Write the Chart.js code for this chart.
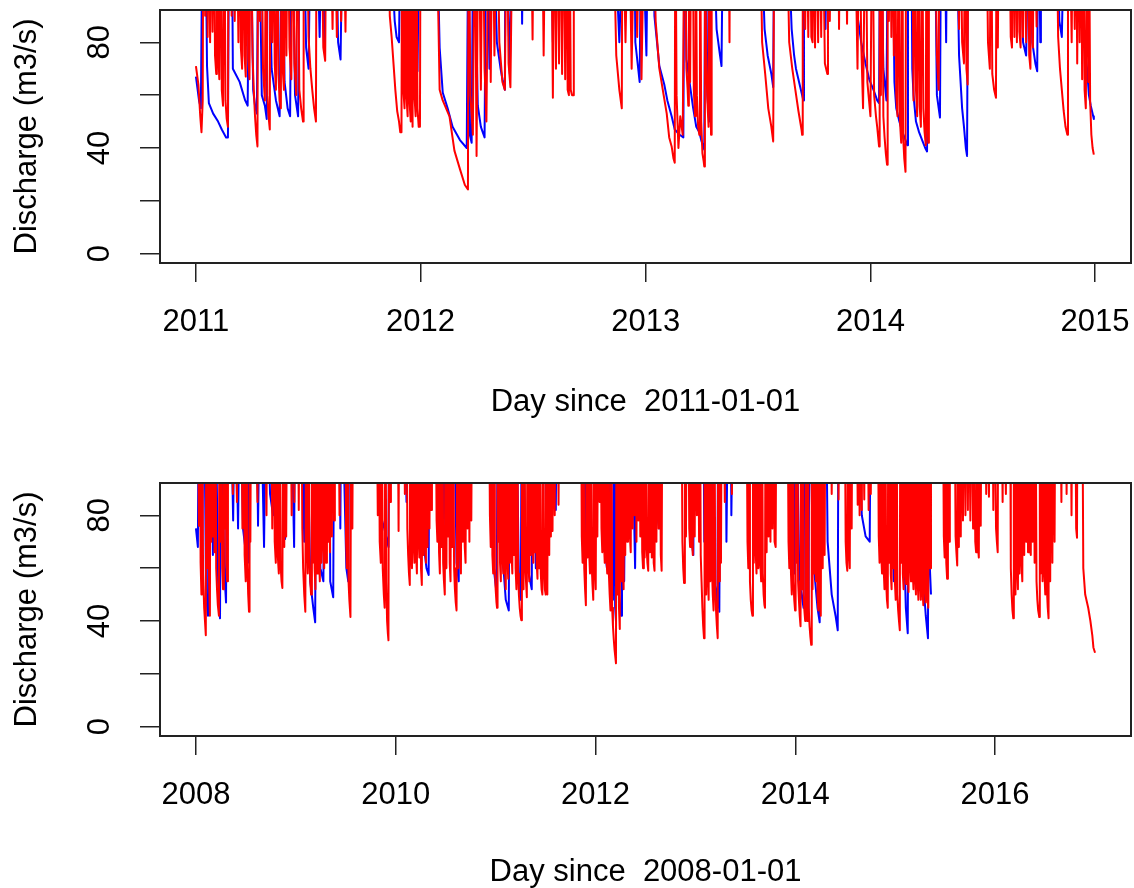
<!DOCTYPE html>
<html>
<head>
<meta charset="utf-8">
<title>Discharge</title>
<script src="https://cdn.jsdelivr.net/npm/chart.js@4.4.1/dist/chart.umd.min.js"></script>
<style>
body { margin: 0; background: #fff; }
.panel { position: absolute; left: 0; width: 1134px; height: 444px; }
</style>
</head>
<body>
<div class="panel" style="top:0"><canvas id="topChart" width="1134" height="444"></canvas></div>
<div class="panel" style="top:444px"><canvas id="bottomChart" width="1134" height="444"></canvas></div>
<script>
// [day since start, discharge m3/s]; 140 = flood peak above the plotted range
var topSim = [
	[0,71],[4,64],[7,52],[9,46],[11,58],[12,140],[15,90],[17,140],[19,82],[21,140],[23,80],[25,140],[27,84],[29,140],[31,75],[33,68],[34,140],[36,78],[38,66],[40,140],[42,62],[44,56],[46,140],[48,58],[50,51],[52,48],[53,140],[56,140],[58,90],[60,140],[63,88],[66,140],[69,80],[71,140],[73,78],[75,70],[77,140],[79,75],[81,67],[83,140],[85,74],[87,66],[89,140],[92,75],[94,62],[96,52],[98,45],[100,40.6],[101,140],[104,88],[106,140],[109,70],[112,58],[114,140],[116,60],[118,52],[120,47],[121,140],[124,80],[126,140],[128,72],[130,62],[132,140],[134,68],[136,58],[138,55],[139,140],[141,70],[143,62],[145,140],[147,75],[149,140],[152,78],[155,66],[157,140],[160,72],[163,60],[165,140],[168,62],[171,55],[174,50],[175,140],[180,140],[183,82],[186,70],[189,62],[192,55],[195,50],[196,140],[203,140],[207,78],[210,73],[212,140],[218,140],[222,85],[225,140],[229,82],[232,140],[236,88],[239,140],[243,84],[246,140],[250,140],
	[312,140],[315,90],[318,82],[321,72],[324,62],[327,54],[330,50],[332,46],[334,46],[335,140],[337,62],[339,55],[340,140],[342,60],[344,52],[345,140],[347,58],[349,50],[350,140],[352,48],[353,140],[355,60],[357,52],[358,140],[360,55],[362,48],[364,48],[365,140],
	[390,140],[396,62],[401,58],[412,52],[420,39],[429,32],[437,26],[442,24.3],[443,140],[446,60],[450,45],[453,140],[456,37],[459,140],[463,62],[466,140],[469,70],[472,50],[476,140],[479,65],[482,140],[485,75],[489,140],[493,80],[498,65],[502,62],[505,140],[508,72],[511,63],[515,140],
	[544,140],[547,81],[549,140],[562,140],[565,75],[568,140],
	[577,140],[580,59],[582,140],[585,70],[587,140],[590,72],[592,140],[595,68],[597,140],[600,66],[602,140],[604,62],[606,60],[607,140],[609,62],[611,60],[613,60],[614,140],
	[677,140],[683,75],[688,62],[692,55],[693,140],[698,80],[703,140],[708,70],[713,140],[717,82],[721,140],[724,66],[729,140],
	[742,140],[747,88],[753,70],[760,60],[765,53],[769,44],[773,40.6],[776,36],[778,34.4],[779,140],[781,60],[784,40],[787,52],[791,45],[794,140],
	[797,70],[799,62],[800,56],[801,140],[803,65],[805,140],[807,140],[809,62],[811,52],[812,140],[814,60],[816,48],[818,45],[819,140],[821,50],[823,38],[825,35],[826,33],[827,140],[829,76],[831,58],[833,48],[834,140],[836,60],[837,45],[838,140],[865,140],[867,80],[868,140],
	[916,140],[920,80],[925,68],[930,55],[935,48],[938,42.5],[940,140],
	[959,140],[964,80],[969,70],[974,62],[979,54],[984,47],[985,45],[986,140],[990,85],[992,140],[995,82],[997,140],[1000,82],[1002,80],[1003,140],[1006,78],[1008,140],[1011,80],[1013,140],[1016,82],[1018,140],[1022,72],[1024,70],[1026,68],[1027,140],[1030,88],[1032,140],[1043,140],[1045,85],[1047,140],[1055,140],[1058,87],[1060,140],
	[1070,140],[1075,70],[1078,140],[1081,80],[1084,55],[1088,140],[1091,65],[1096,52],
	[1099,140],[1102,60],[1105,52],[1107,48],[1110,40.6],[1111,140],[1113,60],[1115,140],[1117,52],[1119,44],[1121,38],[1123,33.7],[1124,140],[1126,88],[1128,140],[1130,82],[1132,140],[1134,75],[1136,140],[1138,60],[1140,52],[1142,140],[1144,50],[1146,42],[1148,140],[1149,45],[1151,36],[1153,31],[1154,140],[1164,140],[1166,58],[1168,140],[1170,62],[1172,52],[1174,140],[1176,56],[1178,48],[1180,140],[1182,55],[1184,46],[1186,41],[1187,140],[1189,50],[1190,42],[1191,140],[1200,140],[1204,75],[1206,66],[1207,62],[1208,140],
	[1235,140],[1240,85],[1242,140],[1245,80],[1248,72],[1250,140],[1252,70],[1254,64],[1255,140],
	[1284,140],[1287,80],[1290,70],[1292,140],[1294,68],[1297,62],[1300,59],[1301,140],[1303,78],[1305,140],
	[1321,140],[1324,82],[1326,78],[1327,140],[1330,82],[1332,140],[1334,80],[1336,140],[1338,84],[1340,78],[1341,140],[1344,82],[1346,140],[1349,80],[1351,140],[1354,75],[1356,70],[1357,140],[1360,78],[1362,140],[1366,86],[1368,140],
	[1398,140],[1401,82],[1404,70],[1407,62],[1410,54],[1413,48],[1416,45],[1417,140],
	[1419,140],[1423,80],[1425,140],[1428,85],[1430,140],[1432,72],[1434,140],[1436,80],[1438,140],[1440,66],[1442,140],[1444,62],[1446,55],[1448,140],[1450,65],[1451,140],[1453,58],[1455,45],[1457,40],[1459,37.5]
];

var topObs = [
	[0,67],[5,58],[8,55],[11,140],[15,140],[18,71],[21,57],[28,53],[36,50],[42,47],[49,44],[52,44],[54,140],[58,140],[60,70],[71,65],[80,58],[84,56],[88,140],[93,62],[96,56],[99,53],[102,140],[107,60],[112,56],[115,51],[117,140],[123,70],[130,58],[136,52],[140,140],[144,65],[149,55],[153,52],[156,140],[161,60],[166,52],[169,140],[174,140],[179,78],[183,70],[187,140],[195,140],[201,82],[205,140],[208,78],[211,140],[226,140],[231,80],[235,73.5],[239,140],
	[312,140],[323,88],[326,82],[330,80],[333,140],[341,140],[347,80],[352,76],[355,140],[360,69],[364,140],
	[390,140],[396,78],[401,61],[409,55],[417,48],[429,43],[440,40],[443,140],[445,45],[448,42],[451,140],[458,56],[463,48],[466,46],[469,44],[472,140],[477,70],[482,140],[489,80],[495,70],[498,66],[502,62],[503,140],[510,68],[515,140],[528,140],[530,87],[532,140],[576,140],[580,80],[583,140],[605,140],[607,75],[610,140],
	[677,140],[688,80],[696,140],[712,140],[714,80],[721,65],[724,140],[732,75],[735,140],
	[742,140],[745,90],[753,71],[761,64],[766,58],[773,52],[778,47],[786,45],[792,44],[794,140],[797,73.5],[802,65],[808,55],[813,48],[818,46],[821,43],[826,39.4],[828,140],[831,60],[834,50],[836,140],[839,140],[846,85],[851,76],[854,71],[857,140],
	[916,140],[924,85],[929,75],[935,68],[938,63],[940,140],[959,140],[968,85],[972,75],[975,70],[980,65],[984,61],[987,58],[988,140],[1021,140],[1023,85],[1026,140],
	[1070,140],[1075,90],[1081,80],[1088,72],[1094,66],[1101,62],[1107,58],[1110,57],[1112,140],[1117,70],[1122,58],[1125,140],[1131,140],[1135,65],[1138,55],[1143,50],[1148,46],[1153,43],[1156,41],[1157,140],[1162,140],[1164,70],[1166,60],[1170,50],[1175,46],[1180,43],[1185,40],[1188,38.7],[1190,140],[1200,140],[1204,60],[1209,51.5],[1211,140],[1216,140],[1219,80],[1221,140],
	[1235,140],[1240,75],[1245,55],[1248,48],[1251,40],[1253,37],[1255,140],
	[1338,140],[1344,80],[1349,75],[1354,140],[1359,80],[1364,72],[1367,69],[1369,140],[1372,80],[1373,140],[1398,140],[1403,88],[1407,82],[1412,140],[1435,140],[1443,80],[1448,70],[1451,60],[1454,56],[1458,52],[1459,51]
];

var bottomSim = [
	[0,140],[4,95],[7,140],[11,76],[14,140],[17,62],[20,50],[22,140],[26,58],[30,45],[33,40],[36,34.6],[38,140],[41,60],[44,140],[48,55],[51,42],[53,140],[56,70],[59,140],[62,72],[65,140],[68,66],[71,140],[74,60],[77,52],[80,46],[84,42],[86,140],[89,70],[92,140],[96,60],[99,52],[102,140],[105,75],[108,140],[111,62],[114,55],[117,140],
	[125,140],[135,88],[138,140],[150,85],[153,140],[165,140],[170,75],[174,140],[178,65],[182,55],[185,140],[188,62],[191,50],[194,43.5],[196,140],[199,70],[202,140],[215,140],[225,85],[228,140],[250,140],[258,80],[261,140],[275,140],
	[279,75],[284,140],[288,70],[292,62],[295,140],[299,65],[303,58],[306,140],[309,62],[313,55],[316,52.5],[319,140],[323,68],[326,140],[330,72],[334,140],[345,140],[350,80],[353,140],[360,85],[363,140],[372,140],[376,82],[379,140],
	[385,140],[389,75],[392,60],[396,50],[400,43.5],[403,140],[406,70],[409,58],[412,140],[415,65],[418,55],[421,50],[424,140],[427,62],[430,140],[434,60],[437,52],[440,140],[443,58],[446,140],[450,65],[453,55],[456,140],[459,62],[462,140],[466,68],[469,60],[472,140],[476,62],[479,140],[483,70],[486,140],[490,66],[493,140],[497,72],[500,140],[505,78],[508,140],[520,140],[525,80],[528,140],
	[546,140],[549,70],[552,60],[555,140],[558,55],[561,48],[565,41.5],[568,140],[572,75],[575,140],
	[660,140],[665,80],[668,140],[672,70],[676,62],[679,140],[683,60],[687,50],[690,45],[693,140],[696,55],[699,40],[702,35],[704,32.7],[706,140],[710,85],[713,140],[737,140],[741,74],[744,140],[760,140],[764,88],[767,140],
	[770,140],[773,75],[776,65],[779,58],[782,53.6],[784,140],[787,68],[790,60],[793,140],[796,70],[799,62],[802,140],[805,66],[808,58],[811,140],[814,72],[817,64],[820,140],[823,60],[826,53.6],[829,140],[832,65],[835,140],[838,72],[841,62],[844,140],[847,68],[850,140],[854,75],[857,140],[860,82],[863,140],
	[876,140],[880,78],[883,70],[886,140],[889,66],[892,58],[895,140],[898,68],[901,140],[904,62],[907,55],[910,50],[913,140],[916,60],[919,140],[922,72],[925,140],[928,62],[931,55],[934,140],[937,68],[940,140],[944,60],[947,52],[950,47],[953,44],[956,140],[959,60],[962,140],[966,66],[969,58],[972,140],[976,70],[979,140],[983,68],[986,62],[989,140],[993,75],[996,140],[1000,70],[1003,140],[1007,78],[1010,140],
	[1071,140],[1075,80],[1078,68],[1081,140],[1084,65],[1087,58],[1090,140],[1093,60],[1096,52],[1099,47],[1101,45],[1103,140],[1106,70],[1109,140],[1112,62],[1115,55],[1118,140],[1121,66],[1124,58],[1127,140],[1130,60],[1133,52],[1136,140],[1139,64],[1142,56],[1145,140],[1148,62],[1151,140],[1154,66],[1157,58],[1160,140],
	[1163,65],[1166,140],[1169,60],[1172,52],[1175,140],[1178,58],[1181,50],[1184,45],[1187,42],[1190,40.3],[1192,140],[1195,60],[1198,52],[1201,140],[1204,62],[1207,55],[1210,49],[1213,140],[1216,62],[1219,55],[1222,140],[1225,65],[1228,140],
	[1231,70],[1234,62],[1237,140],[1240,66],[1243,140],[1246,62],[1249,56],[1252,140],[1255,60],[1258,140],[1261,58],[1264,52],[1267,50],[1270,140],[1273,60],[1276,52],[1279,50],[1282,140],[1285,50],[1288,140],[1292,65],[1295,140],[1298,72],[1301,140],[1304,74],[1307,140],[1312,80],[1315,140],[1322,140],[1326,84],[1329,140],
	[1408,140],[1411,72],[1414,62],[1417,140],[1420,60],[1423,52],[1426,46],[1429,140],[1432,64],[1435,140],[1438,66],[1441,58],[1444,140],[1447,62],[1450,54],[1453,48],[1456,140],[1459,60],[1462,52],[1465,140],[1468,72],[1471,140],
	[1476,85],[1479,140],[1483,75],[1486,66],[1489,140],[1492,70],[1495,62],[1498,140],[1501,65],[1504,58],[1507,140],[1510,58],[1513,50],[1516,44],[1519,140],[1522,45],[1525,38],[1528,33],[1531,29],[1534,26],[1536,24],[1538,140],[1541,50],[1544,140],[1547,45],[1550,37],[1552,140],[1555,55],[1558,140],[1561,60],[1564,52],[1567,140],[1570,65],[1573,140],[1577,70],[1580,140],
	[1584,140],[1587,72],[1590,66],[1593,140],[1597,75],[1600,140],[1604,80],[1607,140],[1611,70],[1614,140],[1618,78],[1621,140],[1625,72],[1628,140],[1632,66],[1635,60],[1638,140],[1641,64],[1644,140],[1648,68],[1651,62],[1654,59],[1657,140],[1660,66],[1663,140],[1667,64],[1670,140],[1674,62],[1677,59],[1680,140],[1684,70],[1687,140],[1692,75],[1695,140],[1700,65],[1703,59],[1706,140],
	[1775,140],[1779,70],[1782,60],[1785,54.4],[1788,140],[1792,72],[1795,140],[1800,140],[1804,75],[1807,68],[1810,140],[1814,70],[1817,65],[1820,140],[1824,72],[1827,140],[1832,80],[1835,140],[1840,70],[1843,140],
	[1846,65],[1849,55],[1852,45],[1855,38],[1858,33.5],[1860,140],[1863,60],[1866,50],[1869,140],[1872,58],[1875,48],[1878,140],[1881,55],[1884,140],[1887,60],[1890,50],[1893,44],[1896,140],[1899,52],[1902,44],[1905,38],[1908,33.5],[1910,140],[1913,55],[1916,140],[1920,62],[1923,140],[1930,140],[1934,85],[1937,140],[1955,140],[1960,88],[1963,140],
	[2013,140],[2017,70],[2020,60],[2023,140],[2026,55],[2029,48],[2032,44],[2035,42],[2037,140],[2040,62],[2043,140],[2047,66],[2050,58],[2053,140],[2057,60],[2060,140],[2064,62],[2067,55],[2070,140],[2073,58],[2076,50],[2079,46],[2081,45],[2083,140],[2087,66],[2090,140],[2094,72],[2097,140],[2101,70],[2104,140],[2108,75],[2111,140],[2116,70],[2120,68],[2123,140],
	[2163,140],[2167,70],[2170,60],[2173,140],[2176,58],[2179,50],[2182,140],[2185,55],[2188,48],[2191,44],[2193,140],[2196,62],[2199,140],[2202,55],[2205,48],[2208,42],[2211,38],[2213,140],[2216,52],[2219,140],[2222,50],[2225,44],[2228,40],[2230,140],[2233,55],[2236,40],[2238,140],[2241,45],[2244,38],[2247,34],[2250,31],[2252,140],[2255,52],[2258,140],[2261,58],[2264,140],[2267,55],[2270,140],[2273,50],[2276,44],[2279,140],[2282,48],[2285,42],[2288,140],[2292,60],[2295,140],[2299,65],[2302,140],
	[2320,140],[2325,88],[2328,140],[2345,140],[2350,86],[2353,140],[2372,140],[2376,70],[2379,62],[2382,59],[2385,140],[2388,66],[2391,60],[2394,140],[2398,75],[2401,140],
	[2416,140],[2420,84],[2423,140],[2427,80],[2430,140],[2435,82],[2438,140],[2444,86],[2447,140],[2455,140],[2460,82],[2463,140],[2468,88],[2471,140],
	[2493,140],[2497,72],[2500,62],[2503,140],[2506,66],[2509,58],[2512,140],[2515,60],[2518,52],[2521,140],[2524,55],[2527,48],[2530,45],[2532,140],[2535,62],[2538,140],[2541,58],[2544,52],[2547,140],[2550,60],[2553,140],[2556,55],[2559,48],[2562,140],[2565,50],[2568,44],[2571,40],[2574,36.5],[2576,140],[2579,62],[2582,140],[2585,58],[2588,52],[2591,140],[2594,60],[2597,54],[2600,140],[2603,58],[2606,51],[2609,140],[2612,62],[2615,55],[2618,140],[2621,60],[2624,52],[2627,140],[2630,58],[2633,50],[2636,140],[2639,56],[2642,48],[2645,140],[2648,55],[2651,48],[2654,140],[2657,52],[2660,46],[2663,140],[2666,54],[2669,47],[2672,140],[2675,50],[2678,45],[2681,140],[2685,60],[2688,140],
	[2731,140],[2735,72],[2738,64],[2741,140],[2744,62],[2747,56],[2750,140],[2754,70],[2757,140],[2774,140],[2778,72],[2781,66],[2784,61],[2787,140],[2790,68],[2793,140],[2797,72],[2800,140],[2805,78],[2808,140],[2814,80],[2817,140],[2823,82],[2826,140],[2832,78],[2835,140],[2842,75],[2845,140],[2850,70],[2853,66],[2856,140],[2860,68],[2863,64],[2866,140],[2870,76],[2873,140],
	[2885,140],[2890,88],[2893,140],[2900,87],[2903,140],[2912,140],[2916,82],[2919,140],[2926,75],[2929,70],[2932,66],[2934,140],[2945,140],[2950,85],[2953,140],[2962,88],[2965,140],
	[2977,140],[2980,60],[2983,50],[2986,44],[2989,41],[2991,140],[2994,58],[2997,50],[3000,140],[3003,60],[3006,52],[3009,140],[3012,58],[3015,140],[3019,62],[3022,55],[3025,140],[3029,65],[3032,140],[3036,70],[3039,140],[3043,66],[3046,140],[3050,68],[3053,65],[3056,140],[3060,70],[3063,140],[3067,62],[3070,140],[3074,55],[3077,48],[3080,44],[3084,41.5],[3086,140],[3089,58],[3092,140],[3096,55],[3099,140],[3103,58],[3106,50],[3109,140],[3112,52],[3115,45],[3118,41],[3120,140],[3124,55],[3127,140],[3132,62],[3135,140],[3140,70],[3143,140],
	[3160,140],[3165,85],[3168,140],[3180,140],[3184,88],[3187,140],[3198,140],[3202,80],[3205,140],[3215,140],[3219,75],[3222,71.5],[3224,140],
	[3241,140],[3245,60],[3252,50],[3263,45],[3271,40],[3278,34.6],[3282,30],[3288,28]
];

var bottomObs = [
	[0,75],[7,68],[11,140],[18,140],[22,60],[29,140],[37,50],[44,42],[48,140],[55,140],[62,65],[70,140],[81,55],[88,41],[92,140],[103,60],[110,47],[114,140],[125,140],[136,78],[143,140],[154,75],[161,140],[172,75],[180,68],[183,140],[194,62],[198,140],[220,140],[227,76],[235,140],[249,68],[257,140],[271,88],[282,80],[290,140],[319,140],[326,71],[330,140],[345,140],[359,68],[363,140],[385,140],[396,70],[403,140],[418,55],[429,45],[436,39.5],[440,140],[455,60],[466,55],[473,140],[488,140],[491,55],[502,49],[506,140],[524,140],[528,75],[532,140],[550,60],[557,55],[561,140],
	[660,140],[675,80],[689,75],[704,68],[708,140],[759,140],[770,85],[774,140],[814,140],[832,70],[843,60],[851,57.4],[854,140],[869,140],[902,140],[906,75],[917,140],[942,140],[953,62],[961,55],[964,140],[983,70],[986,140],
	[1071,140],[1089,60],[1100,50],[1104,140],[1118,65],[1126,58],[1133,48],[1144,44],[1148,140],[1162,70],[1170,140],[1181,55],[1188,48],[1192,140],[1206,65],[1217,58],[1228,52],[1232,140],[1243,60],[1250,140],[1277,140],[1280,80],[1287,140],[1313,140],[1316,82],[1320,140],
	[1415,140],[1426,65],[1434,140],[1474,140],[1492,70],[1503,60],[1507,140],[1518,55],[1525,48],[1529,140],[1533,45],[1536,40],[1540,140],[1547,50],[1555,42],[1558,140],[1566,55],[1573,140],[1584,72],[1591,140],[1606,60],[1613,140],[1683,140],[1687,80],[1694,75],[1698,140],
	[1800,140],[1811,72],[1819,65],[1822,140],[1855,140],[1859,70],[1866,140],[1881,80],[1885,58],[1888,140],[1896,55],[1903,50],[1907,45],[1910,140],[1914,43.5],[1918,140],[1936,140],[1940,70],[1947,140],[1955,140],[1958,80],[1965,140],[2017,140],[2020,75],[2024,140],[2050,140],[2061,62],[2068,140],
	[2163,140],[2178,65],[2189,58],[2193,140],[2207,55],[2222,45],[2226,140],[2237,140],[2240,40],[2244,140],[2255,70],[2262,58],[2273,45],[2281,39.5],[2284,140],[2303,140],[2310,70],[2325,50],[2339,42],[2347,36.5],[2350,140],
	[2416,140],[2435,80],[2449,72],[2464,70],[2468,140],[2500,140],[2504,80],[2512,70],[2515,140],[2537,140],[2552,55],[2556,140],[2585,140],[2592,60],[2596,45],[2603,35.4],[2607,140],[2618,140],[2625,140],[2629,60],[2636,55],[2643,140],[2651,140],[2655,65],[2662,52],[2669,42],[2677,33.5],[2680,140],[2684,60],[2688,50]
];

var yTicks = [0, 20, 40, 60, 80];
var yLabels = ['0', '', '40', '', '80'];
var topTickDays = [0, 365, 731, 1096, 1461];
var topTickLabels = ['2011', '2012', '2013', '2014', '2015'];
var bottomTickDays = [0, 731, 1461, 2192, 2922];
var bottomTickLabels = ['2008', '2010', '2012', '2014', '2016'];

var FONT = '"Liberation Sans", Arial, sans-serif';
var TXT = 31;

// full box round the plot + vertical y tick labels like R
var rAxisPlugin = {
	id: 'rAxis',
	afterDraw: function(chart) {
		var ctx = chart.ctx;
		var a = chart.chartArea;
		var ys = chart.scales.y;
		ctx.save();
		ctx.strokeStyle = '#222';
		ctx.lineWidth = 2;
		ctx.strokeRect(a.left, a.top, a.right - a.left, a.bottom - a.top);
		ctx.fillStyle = '#000';
		ctx.font = TXT + 'px ' + FONT;
		ctx.textAlign = 'center';
		ctx.textBaseline = 'middle';
		yTicks.forEach(function(v, i) {
			if (!yLabels[i]) return;
			ctx.save();
			ctx.translate(100, ys.getPixelForValue(v));
			ctx.rotate(-Math.PI / 2);
			ctx.fillText(yLabels[i], 0, 0);
			ctx.restore();
		});
		ctx.restore();
	}
};

function toPoints(list) {
	return list.map(function(p) { return {x: p[0], y: p[1]}; });
}

function lineSet(label, list, color, order) {
	return {
		label: label,
		data: toPoints(list),
		borderColor: color,
		borderWidth: 2,
		pointRadius: 0,
		fill: false,
		tension: 0,
		clip: 0,
		borderJoinStyle: 'round',
		order: order
	};
}

function makeChart(id, sim, obs, tickDays, tickLabels, xMin, xMax, topPad, xHeight, titlePad, titleText) {
	var ctx = document.getElementById(id).getContext('2d');
	return new Chart(ctx, {
		type: 'line',
		data: {
			// red drawn on top of blue
			datasets: [lineSet('simulated', sim, '#ff0000', 0), lineSet('observed', obs, '#0000ff', 1)]
		},
		options: {
			responsive: false,
			animation: false,
			devicePixelRatio: 1,
			layout: { padding: { top: topPad, right: 3, left: 0, bottom: 0 } },
			plugins: { legend: { display: false }, tooltip: { enabled: false } },
			scales: {
				x: {
					type: 'linear',
					min: xMin,
					max: xMax,
					afterBuildTicks: function(s) {
						s.ticks = tickDays.map(function(d) { return {value: d}; });
					},
					afterFit: function(s) {
						s.height = xHeight;
						s.paddingLeft = 0;
						s.paddingRight = 0;
					},
					grid: { drawOnChartArea: false, drawTicks: true, tickLength: 19, color: '#222', lineWidth: 1.5 },
					border: { display: false },
					ticks: {
						autoSkip: false,
						maxRotation: 0,
						padding: 25,
						color: '#000',
						font: { family: FONT, size: TXT, lineHeight: 1 },
						callback: function(v) {
							var i = tickDays.indexOf(v);
							return i < 0 ? '' : tickLabels[i];
						}
					},
					title: {
						display: true,
						text: titleText,
						color: '#000',
						font: { family: FONT, size: TXT, lineHeight: 1 },
						padding: { top: 0, bottom: titlePad }
					}
				},
				y: {
					type: 'linear',
					min: -3.5,
					max: 92.2,
					afterBuildTicks: function(s) {
						s.ticks = yTicks.map(function(v) { return {value: v}; });
					},
					afterFit: function(s) { s.width = 160; },
					grid: { drawOnChartArea: false, drawTicks: true, tickLength: 20, color: '#222', lineWidth: 1.5 },
					border: { display: false },
					ticks: { display: false },
					title: {
						display: true,
						text: 'Discharge (m3/s)',
						color: '#000',
						font: { family: FONT, size: TXT, lineHeight: 1 },
						padding: { top: 12, bottom: 0 }
					}
				}
			}
		},
		plugins: [rAxisPlugin]
	});
}

makeChart('topChart', topSim, topObs, topTickDays, topTickLabels, -58.4, 1519.4, 10, 181, 26, 'Day since  2011-01-01');
makeChart('bottomChart', bottomSim, bottomObs, bottomTickDays, bottomTickLabels, -131.5, 3419.5, 39, 152, 0, 'Day since  2008-01-01');
</script>
</body>
</html>
